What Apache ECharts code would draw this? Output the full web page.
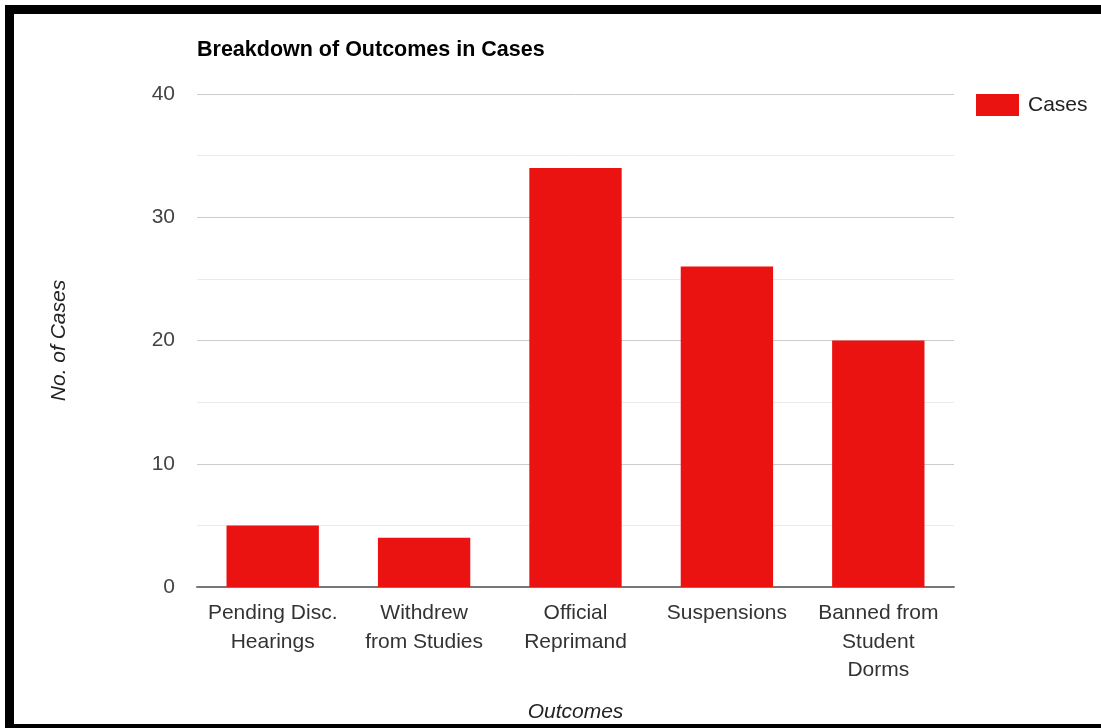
<!DOCTYPE html>
<html>
<head>
<meta charset="utf-8">
<script src="https://cdn.jsdelivr.net/npm/echarts@6/dist/echarts.min.js"></script>
<style>
  html, body { margin: 0; padding: 0; background: #fff; overflow: hidden; }
  #frame { position: absolute; left: 5px; top: 5px; width: 1200px; height: 710px; border: 9px solid #000; }
  #main { position: absolute; left: 0; top: 0; width: 1101px; height: 728px; }
</style>
</head>
<body>
<div id="frame"></div>
<div id="main"></div>
<script>
var categories = ['Pending Disc.\nHearings', 'Withdrew\nfrom Studies', 'Official\nReprimand', 'Suspensions', 'Banned from\nStudent\nDorms'];
var cases = [5, 4, 34, 26, 20];

var myChart = echarts.init(document.getElementById('main'));

var option = {
  backgroundColor: 'transparent',
  textStyle: { fontFamily: 'Liberation Sans, Arial, sans-serif' },
  title: {
    text: 'Breakdown of Outcomes in Cases',
    left: 192,
    top: 34,
    textStyle: { fontSize: 21.5, fontWeight: 'bold', color: '#000' }
  },
  legend: {
    data: ['Cases'],
    left: 971,
    top: 89,
    itemWidth: 43,
    itemHeight: 22,
    icon: 'rect',
    textStyle: { fontSize: 21, color: '#222', padding: [0, 0, 0, 4] }
  },
  grid: { left: 197, right: 147, top: 94, bottom: 141 },
  xAxis: {
    type: 'category',
    data: categories,
    name: 'Outcomes',
    nameLocation: 'middle',
    nameGap: 115,
    nameTextStyle: { fontSize: 21, fontStyle: 'italic', color: '#222' },
    axisLine: { lineStyle: { color: '#777', width: 2 } },
    axisTick: { show: false },
    axisLabel: { fontSize: 21, lineHeight: 28.5, color: '#333', margin: 12, interval: 0 }
  },
  yAxis: {
    type: 'value',
    min: 0,
    max: 40,
    interval: 10,
    name: 'No. of Cases',
    nameLocation: 'middle',
    nameGap: 127,
    nameTextStyle: { fontSize: 21, fontStyle: 'italic', color: '#222' },
    axisLine: { show: false },
    axisTick: { show: false },
    axisLabel: { fontSize: 21, color: '#444', margin: 22 },
    splitLine: { lineStyle: { color: '#ccc', width: 1 } },
    minorTick: { show: false, splitNumber: 2 },
    minorSplitLine: { show: true, lineStyle: { color: '#ebebeb', width: 1 } }
  },
  series: [{
    name: 'Cases',
    type: 'bar',
    data: cases,
    barWidth: '61%',
    itemStyle: { color: '#eb1212' }
  }]
};

myChart.setOption(option);
</script>
</body>
</html>
